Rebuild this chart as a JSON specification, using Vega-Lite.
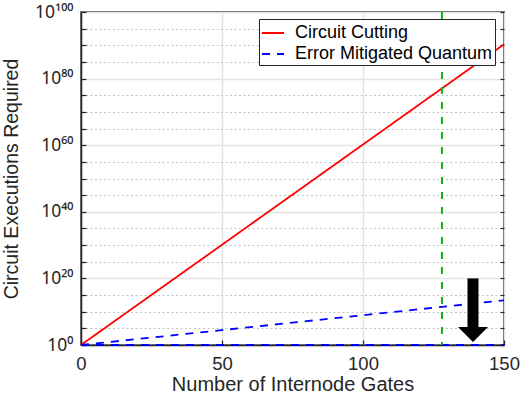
{
  "$schema": "https://vega.github.io/schema/vega-lite/v6.json",
  "width": 423,
  "height": 333,
  "autosize": {"type": "none"},
  "padding": {"left": 81, "top": 12, "right": 16, "bottom": 51},
  "background": "white",
  "config": {
    "font": "Liberation Sans",
    "view": {"stroke": "#262626", "strokeWidth": 1.5},
    "axis": {
      "labelFont": "Liberation Sans",
      "titleFont": "Liberation Sans",
      "labelColor": "#262626",
      "titleColor": "#262626",
      "titleFontWeight": "normal",
      "domainColor": "#262626",
      "domainWidth": 1.5,
      "tickColor": "#262626",
      "tickWidth": 1.2
    },
    "legend": {
      "labelFont": "Liberation Sans",
      "labelFontSize": 18,
      "labelColor": "#000000",
      "labelOffset": 10,
      "labelLimit": 400,
      "symbolType": "stroke",
      "symbolSize": 484,
      "symbolStrokeWidth": 2,
      "rowPadding": 0,
      "padding": 2,
      "strokeColor": "#262626",
      "fillColor": "white",
      "cornerRadius": 0
    }
  },
  "datasets": {
    "curves": [
      {"gates": 0, "executions": 1, "method": "Circuit Cutting", "part": "cut"},
      {"gates": 10, "executions": 1.048576e6, "method": "Circuit Cutting", "part": "cut"},
      {"gates": 20, "executions": 1.0995e12, "method": "Circuit Cutting", "part": "cut"},
      {"gates": 30, "executions": 1.1529e18, "method": "Circuit Cutting", "part": "cut"},
      {"gates": 40, "executions": 1.2089e24, "method": "Circuit Cutting", "part": "cut"},
      {"gates": 50, "executions": 1.2677e30, "method": "Circuit Cutting", "part": "cut"},
      {"gates": 60, "executions": 1.3292e36, "method": "Circuit Cutting", "part": "cut"},
      {"gates": 70, "executions": 1.3938e42, "method": "Circuit Cutting", "part": "cut"},
      {"gates": 80, "executions": 1.4615e48, "method": "Circuit Cutting", "part": "cut"},
      {"gates": 90, "executions": 1.5325e54, "method": "Circuit Cutting", "part": "cut"},
      {"gates": 100, "executions": 1.6069e60, "method": "Circuit Cutting", "part": "cut"},
      {"gates": 110, "executions": 1.6849e66, "method": "Circuit Cutting", "part": "cut"},
      {"gates": 120, "executions": 1.7668e72, "method": "Circuit Cutting", "part": "cut"},
      {"gates": 130, "executions": 1.8526e78, "method": "Circuit Cutting", "part": "cut"},
      {"gates": 140, "executions": 1.9427e84, "method": "Circuit Cutting", "part": "cut"},
      {"gates": 150, "executions": 2.037e90, "method": "Circuit Cutting", "part": "cut"},
      {"gates": 0, "executions": 1, "method": "Error Mitigated Quantum", "part": "rising"},
      {"gates": 10, "executions": 7.85, "method": "Error Mitigated Quantum", "part": "rising"},
      {"gates": 20, "executions": 61.7, "method": "Error Mitigated Quantum", "part": "rising"},
      {"gates": 30, "executions": 484, "method": "Error Mitigated Quantum", "part": "rising"},
      {"gates": 40, "executions": 3802, "method": "Error Mitigated Quantum", "part": "rising"},
      {"gates": 50, "executions": 2.985e4, "method": "Error Mitigated Quantum", "part": "rising"},
      {"gates": 60, "executions": 2.344e5, "method": "Error Mitigated Quantum", "part": "rising"},
      {"gates": 70, "executions": 1.841e6, "method": "Error Mitigated Quantum", "part": "rising"},
      {"gates": 80, "executions": 1.445e7, "method": "Error Mitigated Quantum", "part": "rising"},
      {"gates": 90, "executions": 1.135e8, "method": "Error Mitigated Quantum", "part": "rising"},
      {"gates": 100, "executions": 8.913e8, "method": "Error Mitigated Quantum", "part": "rising"},
      {"gates": 110, "executions": 7.0e9, "method": "Error Mitigated Quantum", "part": "rising"},
      {"gates": 120, "executions": 5.495e10, "method": "Error Mitigated Quantum", "part": "rising"},
      {"gates": 130, "executions": 4.315e11, "method": "Error Mitigated Quantum", "part": "rising"},
      {"gates": 140, "executions": 3.388e12, "method": "Error Mitigated Quantum", "part": "rising"},
      {"gates": 150, "executions": 2.661e13, "method": "Error Mitigated Quantum", "part": "rising"},
      {"gates": 0, "executions": 1, "method": "Error Mitigated Quantum", "part": "flat"},
      {"gates": 150, "executions": 1, "method": "Error Mitigated Quantum", "part": "flat"}
    ],
    "marker": [{"gates": 128}],
    "arrow": [{"gates": 139, "top": 1e20, "bottom": 2.5e5}]
  },
  "layer": [
    {
      "data": {"name": "curves"},
      "mark": {"type": "line", "strokeWidth": 1.8, "clip": false},
      "encoding": {
        "x": {
          "field": "gates", "type": "quantitative",
          "scale": {"domain": [0, 150], "nice": false},
          "axis": {
            "values": [0, 50, 100, 150],
            "title": "Number of Internode Gates",
            "titleFontSize": 20,
            "labelFontSize": 18.5,
            "tickSize": -5,
            "labelPadding": 14,
            "titlePadding": 2,
            "gridColor": "#e3e3e3",
            "gridWidth": 1.5,
            "labelFlush": false
          }
        },
        "y": {
          "field": "executions", "type": "quantitative",
          "scale": {"type": "log", "domain": [1, 1e100], "nice": false},
          "axis": {
            "values": [1, 1e5, 1e10, 1e15, 1e20, 1e25, 1e30, 1e35, 1e40, 1e45, 1e50, 1e55, 1e60, 1e65, 1e70, 1e75, 1e80, 1e85, 1e90, 1e95, 1e100],
            "labelExpr": "round(log(datum.value)/LN10) == 0 ? '10⁰' : round(log(datum.value)/LN10) == 20 ? '10²⁰' : round(log(datum.value)/LN10) == 40 ? '10⁴⁰' : round(log(datum.value)/LN10) == 60 ? '10⁶⁰' : round(log(datum.value)/LN10) == 80 ? '10⁸⁰' : round(log(datum.value)/LN10) == 100 ? '10¹⁰⁰' : ''",
            "labelFont": "Noto Sans",
            "title": "Circuit Executions Required",
            "titleFontSize": 19.5,
            "labelFontSize": 17.5,
            "labelPadding": 13,
            "titlePadding": 13,
            "tickSize": -5,
            "labelFlush": false,
            "labelOverlap": false,
            "gridColor": {"condition": {"test": "round(log(datum.value)/LN10) % 20 != 0", "value": "#c4c4c4"}, "value": "#e3e3e3"},
            "gridDash": {"condition": {"test": "round(log(datum.value)/LN10) % 20 != 0", "value": [2, 2.5]}, "value": []},
            "gridWidth": {"condition": {"test": "round(log(datum.value)/LN10) % 20 != 0", "value": 1.2}, "value": 1.5}
          }
        },
        "detail": {"field": "part"},
        "color": {
          "field": "method", "type": "nominal",
          "scale": {"domain": ["Circuit Cutting", "Error Mitigated Quantum"], "range": ["#ff0000", "#0000ff"]},
          "legend": {"title": null, "orient": "none", "legendX": 178, "legendY": 7}
        },
        "strokeDash": {
          "field": "method", "type": "nominal",
          "scale": {"domain": ["Circuit Cutting", "Error Mitigated Quantum"], "range": [[1, 0], [8, 7]]},
          "legend": {"title": null, "orient": "none", "legendX": 178, "legendY": 7}
        }
      }
    },
    {
      "data": {"name": "marker"},
      "mark": {"type": "rule", "color": "#13b213", "strokeWidth": 2, "strokeDash": [7, 8]},
      "encoding": {
        "x": {"field": "gates", "type": "quantitative"}
      }
    },
    {
      "data": {"name": "arrow"},
      "mark": {"type": "rule", "color": "#000000", "strokeWidth": 11},
      "encoding": {
        "x": {"field": "gates", "type": "quantitative"},
        "y": {
          "field": "top", "type": "quantitative",
          "axis": {
            "orient": "right",
            "values": [1, 1e5, 1e10, 1e15, 1e20, 1e25, 1e30, 1e35, 1e40, 1e45, 1e50, 1e55, 1e60, 1e65, 1e70, 1e75, 1e80, 1e85, 1e90, 1e95, 1e100],
            "labels": false,
            "title": null,
            "grid": false,
            "domain": false,
            "tickSize": -4
          }
        },
        "y2": {"field": "bottom"}
      }
    },
    {
      "data": {"name": "arrow"},
      "mark": {"type": "point", "shape": "M-1,0L1,0L0,1Z", "filled": true, "color": "#000000", "opacity": 1, "size": 900},
      "encoding": {
        "x": {"field": "gates", "type": "quantitative"},
        "y": {"field": "bottom", "type": "quantitative", "axis": null}
      }
    }
  ],
  "resolve": {"axis": {"y": "independent"}}
}
